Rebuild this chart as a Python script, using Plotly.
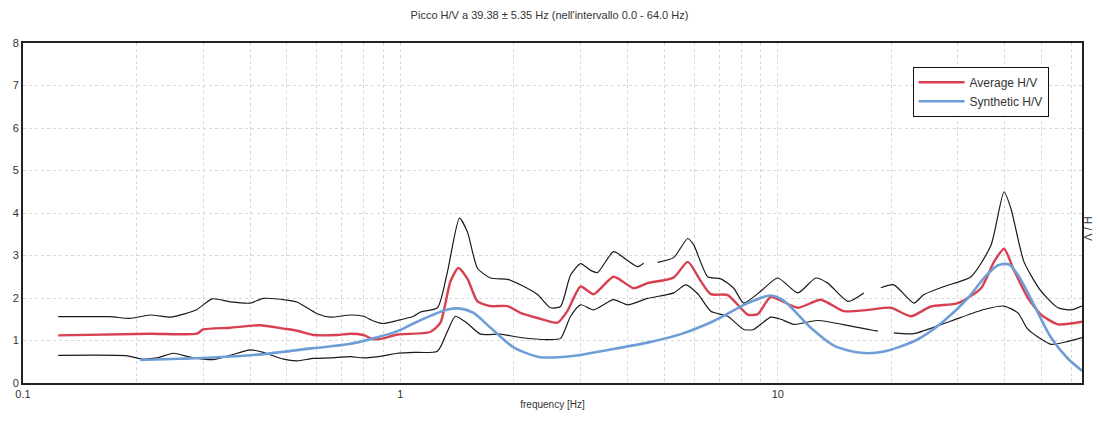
import plotly.graph_objects as go

# ---- H/V spectral ratio data (frequency in Hz, amplitude H/V) ----
avg_freq = [0.124, 0.217, 0.289, 0.300, 0.354, 0.425, 0.490, 0.533, 0.588, 0.681,
            0.737, 0.798, 0.848, 0.901, 0.982, 1.20, 1.277, 1.357, 1.425, 1.506,
            1.601, 1.733, 1.922, 2.081, 2.309, 2.609, 2.773, 3.003, 3.251, 3.673,
            4.150, 4.519, 5.298, 5.772, 6.25, 6.644, 7.371, 8.326, 8.85, 9.58,
            11.3, 13.0, 14.96, 17.33, 19.94, 22.53, 25.45, 30.03, 34.56, 37.41,
            39.77, 42.27, 46.04, 49.84, 55.3, 64.0]
avg_hv = [1.12, 1.16, 1.16, 1.26, 1.30, 1.36, 1.28, 1.23, 1.13, 1.13,
          1.16, 1.13, 1.03, 1.05, 1.14, 1.20, 1.42, 2.39, 2.71, 2.45,
          1.92, 1.81, 1.81, 1.65, 1.53, 1.42, 1.70, 2.27, 2.09, 2.50,
          2.23, 2.35, 2.48, 2.85, 2.40, 2.09, 2.07, 1.61, 1.62, 2.02,
          1.77, 1.96, 1.69, 1.72, 1.77, 1.57, 1.80, 1.88, 2.23, 2.85,
          3.16, 2.65, 2.00, 1.61, 1.38, 1.44]

# average + standard deviation (None marks breaks in the trace)
upper_freq = [0.124, 0.170, 0.192, 0.217, 0.245, 0.256, 0.289, 0.317, 0.354, 0.400,
              0.433, 0.500, 0.533, 0.602, 0.652, 0.737, 0.798, 0.848, 0.901, 0.982,
              1.083, 1.13, 1.254, 1.333, 1.434, 1.506, 1.601, 1.733, 1.922, 2.081,
              2.309, 2.500, 2.657, 2.825, 3.003, 3.192, 3.331, 3.673, 4.000, 4.252,
              4.411, 4.60, 4.805, 5.298, 5.772, 5.988, 6.523, 7.063, 7.646, 8.125,
              9.016, 10.0, 11.3, 12.61, 13.57, 15.34, 16.91, 17.8, 18.76, 20.31,
              22.95, 24.39, 27.56, 32.51, 36.73, 39.77, 41.5, 44.93, 49.84, 55.3,
              59.87, 64.0]
upper_hv = [1.56, 1.56, 1.52, 1.60, 1.55, 1.58, 1.73, 1.98, 1.91, 1.88,
            1.99, 1.95, 1.90, 1.63, 1.55, 1.60, 1.57, 1.46, 1.40, 1.47,
            1.57, 1.67, 1.77, 2.62, 3.88, 3.55, 2.70, 2.47, 2.44, 2.31,
            2.08, 1.77, 1.80, 2.54, 2.81, 2.65, 2.60, 3.09, 2.88, 2.74,
            2.82, None, 2.84, 2.95, 3.40, 3.25, 2.50, 2.45, 2.23, 1.88,
            2.16, 2.47, 2.12, 2.47, 2.35, 1.92, 2.12, None, 2.24, 2.31,
            1.88, 2.08, 2.27, 2.50, 3.24, 4.50, 4.10, 2.85, 2.16, 1.77,
            1.72, 1.81]

# average - standard deviation
lower_freq = [0.124, 0.189, 0.2044, 0.2267, 0.250, 0.2773, 0.319, 0.354, 0.400, 0.433,
              0.490, 0.533, 0.588, 0.652, 0.737, 0.798, 0.901, 0.982, 1.083, 1.254,
              1.333, 1.399, 1.506, 1.630, 1.842, 2.081, 2.454, 2.657, 2.825, 3.003,
              3.251, 3.673, 4.000, 4.519, 5.298, 5.700, 6.136, 6.644, 7.371, 8.125,
              8.637, 9.58, 10.19, 11.03, 12.76, 15.62, 18.42, 19.4, 20.31, 22.95,
              28.77, 35.19, 39.77, 43.3, 46.04, 52.97, 58.78, 64.0]
lower_hv = [0.65, 0.64, 0.57, 0.59, 0.70, 0.61, 0.55, 0.65, 0.78, 0.72,
            0.56, 0.52, 0.58, 0.59, 0.62, 0.59, 0.64, 0.70, 0.72, 0.75,
            1.22, 1.57, 1.40, 1.15, 1.15, 1.07, 1.02, 1.05, 1.57, 1.84,
            1.72, 1.96, 1.84, 1.99, 2.12, 2.31, 2.10, 1.69, 1.57, 1.26,
            1.26, 1.55, 1.50, 1.38, 1.47, 1.34, 1.22, None, 1.18, 1.16,
            1.46, 1.73, 1.81, 1.65, 1.26, 0.91, 0.98, 1.07]

# synthetic H/V from the layered model
syn_freq = [0.2044, 0.261, 0.319, 0.433, 0.588, 0.724, 0.848, 0.982, 1.083, 1.201,
            1.333, 1.443, 1.562, 1.733, 1.994, 2.309, 2.546, 3.003, 3.673, 4.519,
            5.53, 6.767, 8.326, 9.58, 10.37, 12.23, 14.08, 16.61, 19.1, 23.52,
            27.56, 31.92, 35.19, 38.34, 41.0, 43.3, 47.75, 52.97, 58.78, 64.0]
syn_hv = [0.54, 0.57, 0.60, 0.68, 0.82, 0.91, 1.05, 1.22, 1.40, 1.58,
          1.73, 1.75, 1.65, 1.30, 0.84, 0.62, 0.60, 0.66, 0.80, 0.95,
          1.15, 1.46, 1.88, 2.06, 1.94, 1.30, 0.88, 0.71, 0.74, 1.03,
          1.46, 2.00, 2.47, 2.77, 2.79, 2.54, 1.84, 1.07, 0.57, 0.29]

x_major = [0.1, 1, 10]
x_major_text = ["0.1", "1", "10"]
y_ticks = [0, 1, 2, 3, 4, 5, 6, 7, 8]

title_text = "Picco H/V a 39.38 ± 5.35 Hz (nell'intervallo 0.0 - 64.0 Hz)"

FONT = "Liberation Sans Narrow, Liberation Sans, Arial, sans-serif"
TXT = "#333333"

# grid at every 1..9 multiple of each decade, labels only on decades
grid_vals = []
grid_text = []
for dec in [0.1, 1, 10]:
    for m in range(1, 10):
        v = round(dec * m, 4)
        if v > 64:
            break
        grid_vals.append(v)
        grid_text.append(x_major_text[x_major.index(dec)] if m == 1 else "")

fig = go.Figure()

fig.add_trace(go.Scatter(x=upper_freq, y=upper_hv, mode="lines",
                         line=dict(color="#1a1a1a", width=1.2, shape="spline",
                                   smoothing=0.6),
                         showlegend=False, connectgaps=False, hoverinfo="skip"))
fig.add_trace(go.Scatter(x=lower_freq, y=lower_hv, mode="lines",
                         line=dict(color="#1a1a1a", width=1.2, shape="spline",
                                   smoothing=0.6),
                         showlegend=False, connectgaps=False, hoverinfo="skip"))
fig.add_trace(go.Scatter(x=avg_freq, y=avg_hv, mode="lines", name="Average H/V",
                         line=dict(color="#d8404f", width=2.4, shape="spline",
                                   smoothing=0.6)))
fig.add_trace(go.Scatter(x=syn_freq, y=syn_hv, mode="lines", name="Synthetic H/V",
                         line=dict(color="#6f9ed6", width=2.6, shape="spline",
                                   smoothing=0.8)))

fig.update_layout(
    width=1099, height=421,
    margin=dict(l=23, r=17, t=43, b=35),
    paper_bgcolor="white", plot_bgcolor="white",
    font=dict(family=FONT, size=11, color=TXT),
    title=dict(text=title_text, x=0.5, xanchor="center", y=0.965, yanchor="middle",
               font=dict(family=FONT, size=11, color=TXT)),
    legend=dict(x=0.840, y=0.930, xanchor="left", yanchor="top",
                bgcolor="white", bordercolor="#111111", borderwidth=1,
                font=dict(family=FONT, size=12, color=TXT),
                itemwidth=46, tracegroupgap=0),
    showlegend=True,
)

fig.update_xaxes(
    type="log", range=[-1, 1.8062],
    tickmode="array", tickvals=grid_vals, ticktext=grid_text,
    ticks="", showgrid=True, gridcolor="#d8d8d8", gridwidth=1, griddash="dot",
    showline=True, linecolor="#222222", linewidth=2, mirror=True,
    zeroline=False, tickfont=dict(family=FONT, size=11, color=TXT),
    title=dict(text="frequency [Hz]", standoff=2,
               font=dict(family=FONT, size=10, color=TXT)),
)
fig.update_yaxes(
    range=[0, 8], tickmode="array", tickvals=y_ticks,
    ticks="", showgrid=True, gridcolor="#d8d8d8", gridwidth=1, griddash="dot",
    showline=True, linecolor="#222222", linewidth=2, mirror=True,
    zeroline=False, tickfont=dict(family=FONT, size=11, color=TXT),
)

fig.add_annotation(text="H / V", xref="paper", yref="paper", x=1.0057, y=0.455,
                   xanchor="center", yanchor="middle", textangle=90, showarrow=False,
                   font=dict(family=FONT, size=11, color=TXT))

fig.write_html("out.html")
